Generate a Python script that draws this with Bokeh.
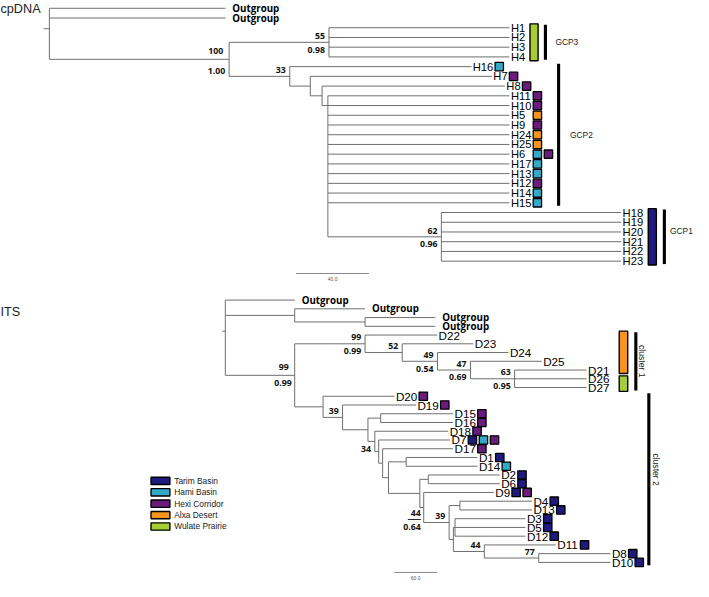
import math
from bokeh.plotting import figure
from bokeh.layouts import column
from bokeh.models import Range1d
from bokeh.core.properties import value
from bokeh.embed import file_html
from bokeh.resources import INLINE

# ============================ DATA ============================
REGION_NAMES = ["Tarim Basin", "Hami Basin", "Hexi Corridor", "Alxa Desert", "Wulate Prairie"]
REGION_COLORS = ["#1f1a7f", "#33a9c7", "#6b1b7b", "#f7941d", "#a6ce34"]

# ---- cpDNA tree: node, parent, depth (tree units, scale bar 40.0), tip row ----
cp_node = ["root", "Outgroup_1", "Outgroup_2", "nIn",
           "nG3", "H1", "H2", "H3", "H4",
           "nG2", "H16", "n317", "H7", "n329", "H8", "n335",
           "H11", "H10", "H5", "H9", "H24", "H25", "H6", "H17", "H13", "H12", "H14", "H15",
           "nG1", "H18", "H19", "H20", "H21", "H22", "H23"]
cp_parent = [None, "root", "root", "root",
             "nIn", "nG3", "nG3", "nG3", "nG3",
             "nIn", "nG2", "nG2", "n317", "n317", "n329", "n329",
             "n335", "n335", "n335", "n335", "n335", "n335", "n335", "n335", "n335", "n335", "n335", "n335",
             "n335", "nG1", "nG1", "nG1", "nG1", "nG1", "nG1"]
cp_depth = [0, 97, 97, 99,
            154, 253.4, 253.4, 253.4, 253.4,
            132.4, 232.4, 143.7, 243.7, 150.2, 250.9, 153.4,
            253.4, 253.4, 253.4, 253.4, 253.4, 253.4, 253.4, 253.4, 253.4, 253.4, 253.4, 253.4,
            215.9, 314.9, 314.9, 314.9, 314.9, 314.9, 314.9]
cp_row = [2.1, 0, 1, None,
          None, 2, 3, 4, 5,
          None, 6, None, 7, None, 8, 10,
          9, 10, 11, 12, 13, 14, 15, 16, 17, 18, 19, 20,
          None, 21, 22, 23, 24, 25, 26]
cp_mark_tip = ["H16", "H7", "H8", "H11", "H10", "H5", "H9", "H24", "H25", "H6",
               "H17", "H13", "H12", "H14", "H15"]
cp_mark_regions = [["Hami Basin"], ["Hexi Corridor"], ["Hexi Corridor"], ["Hexi Corridor"],
                   ["Hexi Corridor"], ["Alxa Desert"], ["Hexi Corridor"], ["Alxa Desert"],
                   ["Alxa Desert"], ["Hami Basin", "Hexi Corridor"], ["Hami Basin"],
                   ["Hami Basin"], ["Hexi Corridor"], ["Hami Basin"], ["Hami Basin"]]
cp_support_node = ["nIn", "nG3", "nG2", "nG1"]
cp_support_top = ["100", "55", "33", "62"]
cp_support_bottom = ["1.00", "0.98", None, "0.96"]
cp_bar_region = ["Wulate Prairie", "Tarim Basin"]
cp_bar_first = ["H1", "H18"]
cp_bar_last = ["H4", "H23"]
cp_group = ["GCP3", "GCP2", "GCP1"]
cp_group_first = ["H1", "H16", "H18"]
cp_group_last = ["H4", "H15", "H23"]
cp_scale_value = 40.0

# ---- ITS tree ----
its_node = ["root", "Outgroup_A", "nO1", "Outgroup_B", "nO2", "Outgroup_C", "Outgroup_D",
            "nIn", "nC1", "D22", "n411", "D23", "n447", "D24", "n481", "D25", "n526",
            "D21", "D26", "D27",
            "nC2", "D20", "nA", "D19", "nB", "nC", "D15", "D16", "nD", "D18", "nE", "D7",
            "nF", "D17", "nG", "nH", "D1", "D14", "nI", "nJ", "D2", "D6", "n433", "D9",
            "nX", "n470", "D4", "D13", "nY", "n465", "D3", "D5", "D12", "n495", "D11",
            "n550", "D8", "D10"]
its_parent = [None, "root", "root", "nO1", "nO1", "nO2", "nO2",
              "root", "nIn", "nC1", "nC1", "n411", "n411", "n447", "n447", "n481", "n481",
              "n526", "n526", "n526",
              "nIn", "nC2", "nC2", "nA", "nA", "nB", "nC", "nC", "nB", "nD", "nD", "nE",
              "nE", "nF", "nF", "nG", "nH", "nH", "nG", "nI", "nJ", "nJ", "nI", "n433",
              "n433", "nX", "n470", "n470", "nX", "nY", "n465", "n465", "n465", "nY", "n495",
              "n495", "n550", "n550"]
its_depth = [0, 97, 96.8, 195, 195, 293, 293,
             96.8, 195, 295.5, 246.8, 346, 296, 395, 342, 441.4, 403.6,
             504, 504, 504,
             136.4, 236, 163.6, 266, 199, 216.8, 317.7, 317.7, 208.6, 311, 214, 313.6,
             219.5, 317.7, 227.7, 252.3, 351.8, 351.8, 271.4, 283.2, 382.8, 382.8, 276.8, 374.6,
             312.3, 327.3, 427.8, 427.8, 318.2, 320.5, 418.7, 418.7, 418.7, 361.4, 461,
             437.3, 537.3, 537.3]
its_row = [3.56, 0, None, 1, None, 2, 3,
           None, None, 4, None, 5, None, 6, None, 7, None,
           8, 9, 10,
           None, 11, None, 12, None, None, 13, 14, None, 15, None, 16,
           None, 17, None, None, 18, 19, None, None, 20, 21, None, 22,
           None, None, 23, 24, None, None, 25, 26, 27, None, 28,
           None, 29, 30]
its_mark_tip = ["D20", "D19", "D15", "D16", "D18", "D7", "D17", "D1", "D14", "D2", "D6",
                "D9", "D4", "D13", "D3", "D5", "D12", "D11", "D8", "D10"]
its_mark_regions = [["Hexi Corridor"], ["Hexi Corridor"], ["Hexi Corridor"], ["Hexi Corridor"],
                    ["Hexi Corridor"], ["Tarim Basin", "Hami Basin", "Hexi Corridor"],
                    ["Hexi Corridor"], ["Tarim Basin"], ["Hami Basin"], ["Tarim Basin"],
                    ["Tarim Basin"], ["Tarim Basin", "Hexi Corridor"], ["Tarim Basin"],
                    ["Tarim Basin"], ["Tarim Basin"], ["Tarim Basin"], ["Tarim Basin"],
                    ["Tarim Basin"], ["Tarim Basin"], ["Tarim Basin"]]
its_support_node = ["nIn", "nC1", "n411", "n447", "n481", "n526", "nA", "nD", "n433", "nX", "n495", "n550"]
its_support_top = ["99", "99", "52", "49", "47", "63", "39", None, "44", "39", "44", "77"]
its_support_bottom = ["0.99", "0.99", None, "0.54", "0.69", "0.95", None, "34", "0.64", None, None, None]
its_bar_region = ["Alxa Desert", "Wulate Prairie"]
its_bar_first = ["D22", "D26"]
its_bar_last = ["D21", "D27"]
its_group = ["cluster 1", "cluster 2"]
its_group_first = ["D22", "D20"]
its_group_last = ["D27", "D10"]
its_scale_value = 60.0

# ============================ LAYOUT / STYLE ============================
S = 0.975                     # reference-pixel -> screen-pixel
LINE = "#6f6f6f"
SANS = "Liberation Sans"
BOLD = "Open Sans"

CP = dict(title="cpDNA", x0=50.0, ppu=1.8575, y0=8.0, dy=10.0, ref_top=0.0, ref_bot=292.0,
          height=284, tip_font=11.5, stub=6, align={"n335"},
          bar_x=[(541.7, 550.0), (662.7, 671.0)], bar_pad=[(4, 4), (4, 4)],
          group_x=[557.5, 571.0, 679.2], group_label_x=[567.7, 582.7, 685.0],
          group_label_dy=[0, 0, -6], group_vertical=False,
          scale_x=136.0, scale_y=280.7, title_y=9.0,
          sup_override={"nIn": (-8.5, 11.5, 6, 4)})
ITS = dict(title="ITS", x0=230.0, ppu=0.7333, y0=308.0, dy=8.98, ref_top=292.0, ref_bot=597.0,
           height=297, tip_font=12.0, stub=3, align=set(),
           bar_x=[(633.0, 641.7), (633.0, 641.7)], bar_pad=[(4, 3.5), (3, 4)],
           group_x=[650.0, 663.3], group_label_x=[656.5, 671.0],
           group_label_dy=[0, -10], group_vertical=True,
           scale_x=235.5, scale_y=587.7, title_y=320.0,
           sup_override={"nIn": (-8.3, 7.4, 6, 3), "n433": (5.7, 20.0, 3, 3)},
           legend_x=(154.0, 173.3), legend_y0=493.7, legend_step=11.7, legend_h=7.5, legend_text_x=177.7)

EM = {"H": 0.722, "D": 0.722}


def text_w(s, size):
    return sum(EM.get(c, 0.556) for c in s) * size


def layout_tree(nodes, parents, depths, rows):
    idx = {n: i for i, n in enumerate(nodes)}
    kids = {n: [] for n in nodes}
    for n, par in zip(nodes, parents):
        if par is not None:
            kids[par].append(n)
    ys = {}

    def y_of(n):
        if n not in ys:
            r = rows[idx[n]]
            cy = [y_of(c) for c in kids[n]]
            if r is None:
                r = (min(cy) + max(cy)) / 2.0
            ys[n] = r
        return ys[n]

    for n in nodes:
        y_of(n)
    xs = {n: depths[idx[n]] for n in nodes}
    par = dict(zip(nodes, parents))
    return xs, ys, kids, par


def make_fig(L):
    xr = Range1d((0 - L["x0"]) / L["ppu"], (709 - L["x0"]) / L["ppu"])
    yr = Range1d((L["ref_bot"] - L["y0"]) / L["dy"], (L["ref_top"] - L["y0"]) / L["dy"])
    p = figure(width=693, height=L["height"], x_range=xr, y_range=yr,
               output_backend="svg", toolbar_location=None, min_border=0,
               x_axis_location=None, y_axis_location=None)
    p.grid.visible = False
    p.outline_line_color = None
    p.background_fill_color = "white"
    return p


def draw(p, L, nodes, parents, depths, rows, mark_tip, mark_regions,
         sup_node, sup_top, sup_bot, bar_region, bar_first, bar_last,
         groups, g_first, g_last, scale_value):
    fx = lambda px: (px - L["x0"]) / L["ppu"]
    fy = lambda py: (py - L["y0"]) / L["dy"]
    xs, ys, kids, par = layout_tree(nodes, parents, depths, rows)
    color = dict(zip(REGION_NAMES, REGION_COLORS))

    # branches
    hx0, hx1, hy = [], [], []
    for n in nodes:
        if par[n] is not None:
            hx0.append(xs[par[n]]); hx1.append(xs[n]); hy.append(ys[n])
    p.segment(x0=hx0, y0=hy, x1=hx1, y1=hy, line_color=LINE, line_width=1)
    vx, v0, v1 = [], [], []
    for n in nodes:
        if kids[n]:
            cy = [ys[c] for c in kids[n]] + [ys[n]]
            vx.append(xs[n]); v0.append(min(cy)); v1.append(max(cy))
    p.segment(x0=vx, y0=v0, x1=vx, y1=v1, line_color=LINE, line_width=1)
    root = nodes[parents.index(None)]
    p.ray(x=[xs[root]], y=[ys[root]], length=L["stub"] * S, length_units="screen",
          angle=math.pi, line_color=LINE, line_width=1)

    # tip labels
    tips = [n for n in nodes if not kids[n]]
    og = [n for n in tips if n.startswith("Outgroup")]
    ing = [n for n in tips if not n.startswith("Outgroup")]
    p.text(x=[xs[n] for n in og], y=[ys[n] for n in og], text=[n.split("_")[0] for n in og],
           x_offset=7 * S, text_font=value(BOLD), text_font_style="bold",
           text_font_size=value(f"{10 * S:.2f}px"), text_baseline="middle", text_color="black")
    p.text(x=[xs[n] for n in ing], y=[ys[n] for n in ing], text=ing,
           x_offset=1.5 * S, text_font=value(SANS),
           text_font_size=value(f"{L['tip_font'] * S:.2f}px"), text_baseline="middle",
           text_color="black")

    # region marks
    marked = dict(zip(mark_tip, mark_regions))
    mx, my, mc = [], [], []
    for tip, regs in zip(mark_tip, mark_regions):
        if par[tip] in L["align"]:
            w = max(text_w(t, L["tip_font"]) for t in kids[par[tip]] if t in marked)
        else:
            w = text_w(tip, L["tip_font"])
        for k, r in enumerate(regs):
            off = 1.5 + w + 6.0 + k * 11.3
            mx.append(xs[tip] + off / L["ppu"]); my.append(ys[tip]); mc.append(color[r])
    p.scatter(x=mx, y=my, marker="square", size=8.6 * S, fill_color=mc,
              line_color="black", line_width=1.3)

    # support values
    tx, ty, tt, txo, tyo = [], [], [], [], []
    for n, a, b in zip(sup_node, sup_top, sup_bot):
        dt, db, dxa, dxb = L["sup_override"].get(n, (-6.5, 7.5, 4, 4))
        for t, d, dx in ((a, dt, dxa), (b, db, dxb)):
            if t is not None:
                tx.append(xs[n]); ty.append(ys[n]); tt.append(t)
                txo.append(-dx * S); tyo.append(d * S)
    p.text(x=tx, y=ty, text=tt, x_offset=txo, y_offset=tyo, text_align="right",
           text_baseline="middle", text_font=value(BOLD), text_font_style="bold",
           text_font_size=value(f"{9 * S:.2f}px"), text_color="#111111")
    if "n433" in sup_node and "n433" in L["sup_override"]:
        n = "n433"
        p.segment(x0=[xs[n] - 16.3 / L["ppu"]], x1=[xs[n] - 3 / L["ppu"]],
                  y0=[ys[n] + 12.3 / L["dy"]], y1=[ys[n] + 12.3 / L["dy"]],
                  line_color="#222222", line_width=1)

    # coloured region bars for whole clades
    for (r, a, b), (xl, xr_), (pt, pb) in zip(zip(bar_region, bar_first, bar_last), L["bar_x"], L["bar_pad"]):
        p.quad(left=[fx(xl)], right=[fx(xr_)], top=[ys[a] - pt / L["dy"]], bottom=[ys[b] + pb / L["dy"]],
               fill_color=color[r], line_color="black", line_width=1.4)

    # group brackets
    for g, a, b, gx, lx, ldy in zip(groups, g_first, g_last, L["group_x"], L["group_label_x"], L["group_label_dy"]):
        p.segment(x0=[fx(gx)], x1=[fx(gx)], y0=[ys[a] - 3 / L["dy"]], y1=[ys[b] + 3 / L["dy"]],
                  line_color="black", line_width=3.2 * S)
        ym = (ys[a] + ys[b]) / 2 + ldy / L["dy"]
        if L["group_vertical"]:
            p.text(x=[fx(lx)], y=[ym], text=[g], angle=-math.pi / 2, text_align="center",
                   text_baseline="middle", text_font=value(SANS),
                   text_font_size=value(f"{8.8 * S:.2f}px"), text_color="#222222")
        else:
            p.text(x=[fx(lx)], y=[ym], text=[g], text_align="left", text_baseline="middle",
                   text_font=value(SANS), text_font_size=value(f"{8.6 * S:.2f}px"),
                   text_color="#222222")

    # scale bar
    sx0 = L["scale_x"]
    sy = fy(L["scale_y"])
    p.segment(x0=[sx0], x1=[sx0 + scale_value], y0=[sy], y1=[sy], line_color="#888888", line_width=1)
    p.text(x=[sx0 + scale_value / 2], y=[sy], text=[f"{scale_value:.1f}"], y_offset=6 * S,
           text_align="center", text_baseline="middle", text_font=value(SANS),
           text_font_size=value(f"{5 * S:.2f}px"), text_color="#555555")

    # title
    p.text(x=[fx(0)], y=[fy(L["title_y"])], text=[L["title"]], text_align="left",
           text_baseline="middle", text_font=value(SANS),
           text_font_size=value(f"{13 * S:.2f}px"), text_color="#222222")
    return fx, fy


p1 = make_fig(CP)
draw(p1, CP, cp_node, cp_parent, cp_depth, cp_row, cp_mark_tip, cp_mark_regions,
     cp_support_node, cp_support_top, cp_support_bottom, cp_bar_region, cp_bar_first, cp_bar_last,
     cp_group, cp_group_first, cp_group_last, cp_scale_value)

p2 = make_fig(ITS)
fx2, fy2 = draw(p2, ITS, its_node, its_parent, its_depth, its_row, its_mark_tip, its_mark_regions,
                its_support_node, its_support_top, its_support_bottom, its_bar_region, its_bar_first,
                its_bar_last, its_group, its_group_first, its_group_last, its_scale_value)

# legend
lx0, lx1 = ITS["legend_x"]
ly = [fy2(ITS["legend_y0"] + i * ITS["legend_step"]) for i in range(len(REGION_NAMES))]
hh = ITS["legend_h"] / 2 / ITS["dy"]
p2.quad(left=[fx2(lx0)] * len(ly), right=[fx2(lx1)] * len(ly), top=[y - hh for y in ly],
        bottom=[y + hh for y in ly], fill_color=REGION_COLORS, line_color="black", line_width=1.4)
p2.text(x=[fx2(ITS["legend_text_x"])] * len(ly), y=ly, text=REGION_NAMES, text_align="left",
        text_baseline="middle", text_font=value(SANS), text_font_size=value(f"{8.6 * S:.2f}px"),
        text_color="#222222")

layout = column(p1, p2, spacing=0)
open("out.html", "w").write(file_html(layout, INLINE))
